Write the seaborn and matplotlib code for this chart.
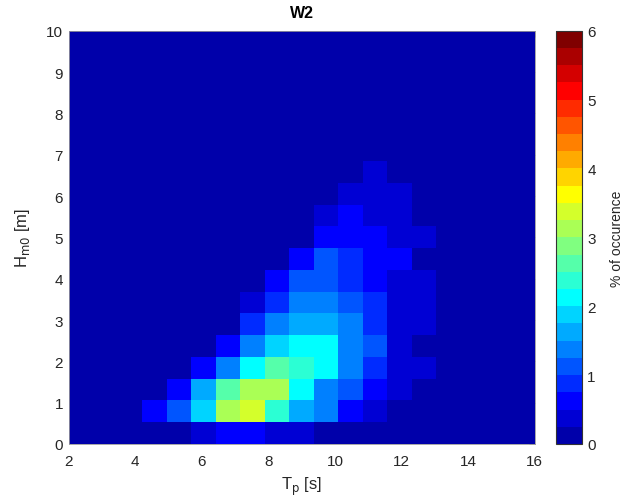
import numpy as np
import pandas as pd
import matplotlib
matplotlib.use("Agg")
import matplotlib.pyplot as plt
from matplotlib.colors import ListedColormap
import seaborn as sns

# ---- data ----
tp_ticks = [2, 4, 6, 8, 10, 12, 14, 16]
hm0_ticks = [0, 1, 2, 3, 4, 5, 6, 7, 8, 9, 10]
cbar_ticks = [0, 1, 2, 3, 4, 5, 6]
tp_range = [2, 16]
hm0_range = [0, 10]
title = "W2"

# % of occurrence, rows = Hm0 bins (bottom to top), cols = Tp bins (left to right)
row00 = [0, 0, 0, 0, 0, 0.35, 0.6, 0.6, 0.35, 0.35, 0, 0, 0, 0, 0, 0, 0, 0, 0]
row01 = [0, 0, 0, 0.6, 1.1, 1.9, 3.1, 3.4, 2.4, 1.6, 1.4, 0.6, 0.35, 0, 0, 0, 0, 0, 0]
row02 = [0, 0, 0, 0, 0.6, 1.6, 2.6, 3.1, 3.1, 2.1, 1.4, 1.1, 0.6, 0.35, 0, 0, 0, 0, 0]
row03 = [0, 0, 0, 0, 0, 0.6, 1.4, 2.1, 2.6, 2.4, 2.1, 1.4, 0.9, 0.35, 0.35, 0, 0, 0, 0]
row04 = [0, 0, 0, 0, 0, 0, 0.6, 1.4, 1.9, 2.1, 2.1, 1.4, 1.1, 0.35, 0, 0, 0, 0, 0]
row05 = [0, 0, 0, 0, 0, 0, 0, 0.9, 1.4, 1.6, 1.6, 1.4, 0.9, 0.35, 0.35, 0, 0, 0, 0]
row06 = [0, 0, 0, 0, 0, 0, 0, 0.35, 0.9, 1.4, 1.4, 1.1, 0.9, 0.35, 0.35, 0, 0, 0, 0]
row07 = [0, 0, 0, 0, 0, 0, 0, 0, 0.6, 1.1, 1.1, 0.9, 0.6, 0.35, 0.35, 0, 0, 0, 0]
row08 = [0, 0, 0, 0, 0, 0, 0, 0, 0, 0.6, 1.1, 0.9, 0.6, 0.6, 0, 0, 0, 0, 0]
row09 = [0, 0, 0, 0, 0, 0, 0, 0, 0, 0, 0.6, 0.6, 0.6, 0.35, 0.35, 0, 0, 0, 0]
row10 = [0, 0, 0, 0, 0, 0, 0, 0, 0, 0, 0.35, 0.6, 0.35, 0.35, 0, 0, 0, 0, 0]
row11 = [0, 0, 0, 0, 0, 0, 0, 0, 0, 0, 0, 0.35, 0.35, 0.35, 0, 0, 0, 0, 0]
row12 = [0, 0, 0, 0, 0, 0, 0, 0, 0, 0, 0, 0, 0.35, 0, 0, 0, 0, 0, 0]
row13 = [0] * 19
row14 = [0] * 19
row15 = [0] * 19
row16 = [0] * 19
row17 = [0] * 19
row18 = [0] * 19

rows = [row00, row01, row02, row03, row04, row05, row06, row07, row08, row09,
        row10, row11, row12, row13, row14, row15, row16, row17, row18]
occ = pd.DataFrame(np.array(rows, dtype=float))
n_rows, n_cols = occ.shape

# MATLAB jet(24)
jet24 = [
    (0, 0, .6667), (0, 0, .8333), (0, 0, 1), (0, .1667, 1), (0, .3333, 1), (0, .5, 1),
    (0, .6667, 1), (0, .8333, 1), (0, 1, 1), (.1667, 1, .8333), (.3333, 1, .6667), (.5, 1, .5),
    (.6667, 1, .3333), (.8333, 1, .1667), (1, 1, 0), (1, .8333, 0), (1, .6667, 0), (1, .5, 0),
    (1, .3333, 0), (1, .1667, 0), (1, 0, 0), (.8333, 0, 0), (.6667, 0, 0), (.5, 0, 0)]
cmap = ListedColormap(jet24)

sns.set_style("white")
plt.rcParams['font.family'] = ['Liberation Sans', 'DejaVu Sans']

fig = plt.figure(figsize=(6.34, 5.02), dpi=100)
ax = fig.add_axes([68.6 / 634, 57 / 502, 466 / 634, 413.3 / 502])
cax = fig.add_axes([556 / 634, 57 / 502, 25.7 / 634, 413.3 / 502])

sns.heatmap(occ, ax=ax, cmap=cmap, vmin=0, vmax=6, cbar_ax=cax,
            linewidths=0, xticklabels=False, yticklabels=False)
ax.set_ylim(0, n_rows)
ax.set_xlim(0, n_cols)

xpos = [(v - tp_range[0]) / (tp_range[1] - tp_range[0]) * n_cols for v in tp_ticks]
ypos = [(v - hm0_range[0]) / (hm0_range[1] - hm0_range[0]) * n_rows for v in hm0_ticks]
ax.set_xticks(xpos)
ax.set_xticklabels([str(v) for v in tp_ticks])
ax.set_yticks(ypos)
ax.set_yticklabels([str(v) for v in hm0_ticks], rotation=0)

tick_col = '#262626'
ax.tick_params(axis='both', direction='in', length=4, width=0.5, color='#888888',
               labelsize=11, labelcolor=tick_col, top=True, right=True)
ax.tick_params(axis='x', pad=7)
ax.tick_params(axis='y', pad=4)
for s in ax.spines.values():
    s.set_visible(True)
    s.set_color('#999999')
    s.set_linewidth(0.6)

ax.set_xlabel(r"T$_\mathrm{p}$ [s]", fontsize=12, color=tick_col, labelpad=5)
ax.set_ylabel(r"H$_\mathrm{m0}$ [m]", fontsize=12, color=tick_col, labelpad=10)
ax.set_title(title, fontsize=11.5, fontweight='bold', color='black', pad=10)

cb = ax.collections[0].colorbar
cb.set_ticks(cbar_ticks)
cb.set_ticklabels([str(v) for v in cbar_ticks])
cax.tick_params(direction='in', length=4, width=0.5, color='#333333',
                labelsize=11, labelcolor=tick_col, right=True, left=False, pad=4)
cb.outline.set_visible(True)
cb.outline.set_edgecolor('#333333')
cb.outline.set_linewidth(0.8)
cb.set_label("% of occurence", fontsize=10, color=tick_col, labelpad=10)

fig.savefig("out.png", dpi=100)
